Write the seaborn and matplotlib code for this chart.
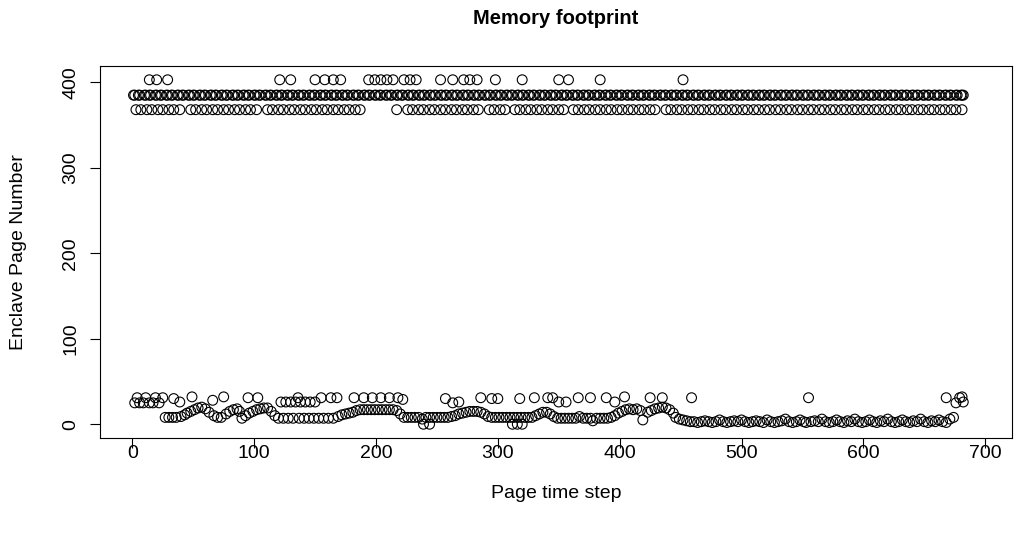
import matplotlib
matplotlib.use("Agg")
import matplotlib.pyplot as plt
import seaborn as sns
import pandas as pd

# ---- data ----
x_385 = [1, 2, 5, 6, 10, 11, 14, 15, 19, 20, 23, 24, 28, 29, 32, 33, 37, 38, 41, 42,
         46, 47, 50, 51, 55, 56, 59, 60, 64, 65, 68, 69, 73, 74, 77, 78, 82, 83, 86, 87,
         91, 92, 95, 96, 100, 101, 104, 105, 109, 110, 113, 114, 118, 119, 122, 123,
         127, 128, 131, 132, 136, 137, 140, 141, 145, 146, 149, 150, 154, 155, 158, 159,
         163, 164, 167, 168, 172, 173, 176, 177, 181, 182, 185, 186, 190, 191, 194, 195,
         199, 200, 203, 204, 208, 209, 212, 213, 217, 218, 221, 222, 226, 227, 230, 231,
         235, 236, 239, 240, 244, 245, 248, 249, 253, 254, 257, 258, 262, 263, 266, 267,
         271, 272, 275, 276, 280, 281, 284, 285, 289, 290, 293, 294, 298, 299, 302, 303,
         307, 308, 311, 312, 316, 317, 320, 321, 325, 326, 329, 330, 334, 335, 338, 339,
         343, 344, 347, 348, 352, 353, 356, 357, 361, 362, 365, 366, 370, 371, 374, 375,
         379, 380, 383, 384, 388, 389, 392, 393, 397, 398, 401, 402, 406, 407, 410, 411,
         415, 416, 419, 420, 424, 425, 428, 429, 433, 434, 437, 438, 442, 443, 446, 447,
         451, 452, 455, 456, 460, 461, 464, 465, 469, 470, 473, 474, 478, 479, 482, 483,
         487, 488, 491, 492, 496, 497, 500, 501, 505, 506, 509, 510, 514, 515, 518, 519,
         523, 524, 527, 528, 532, 533, 536, 537, 541, 542, 545, 546, 550, 551, 554, 555,
         559, 560, 563, 564, 568, 569, 572, 573, 577, 578, 581, 582, 586, 587, 590, 591,
         595, 596, 599, 600, 604, 605, 608, 609, 613, 614, 617, 618, 622, 623, 626, 627,
         631, 632, 635, 636, 640, 641, 644, 645, 649, 650, 653, 654, 658, 659, 662, 663,
         667, 668, 671, 672, 676, 677, 680, 681, 682]

x_368 = [3, 7, 12, 16, 21, 25, 30, 34, 39, 48, 52, 57, 61, 66, 70, 75, 79, 84, 88, 93,
         97, 102, 111, 115, 120, 124, 129, 133, 138, 142, 147, 151, 156, 160, 165, 169,
         174, 178, 183, 187, 217, 226, 230, 235, 239, 244, 248, 253, 257, 262, 266, 271,
         275, 280, 284, 293, 297, 302, 306, 314, 318, 323, 327, 332, 336, 341, 345, 350,
         354, 362, 366, 371, 375, 380, 384, 389, 393, 398, 402, 407, 411, 416, 420, 425,
         429, 438, 442, 447, 451, 456, 460, 465, 469, 474, 478, 483, 487, 492, 496, 501,
         505, 510, 514, 519, 523, 528, 532, 537, 541, 546, 550, 555, 559, 564, 568, 573,
         577, 582, 586, 591, 595, 600, 604, 609, 613, 618, 622, 627, 631, 636, 640, 645,
         649, 654, 658, 663, 667, 672, 676, 681]

x_403 = [14, 20, 29, 121, 130, 150, 158, 165, 171, 194, 199, 204, 209, 214, 223, 228,
         233, 253, 263, 272, 277, 283, 298, 320, 350, 358, 384, 452]

low_x = [2, 4, 6, 9, 11, 14, 17, 19, 22, 25, 27, 30, 33, 34, 36, 39, 40, 43, 45, 48,
         49, 51, 54, 57, 60, 63, 66, 67, 70, 73, 75, 77, 80, 83, 86, 88, 90, 93, 95, 96,
         99, 102, 103, 105, 108, 111, 114, 117, 120, 122, 124, 126, 128, 130, 132, 134,
         136, 137, 138, 141, 142, 145, 146, 149, 150, 153, 155, 157, 161, 163, 165, 168,
         169, 172, 175, 178, 181, 182, 184, 187, 190, 190, 193, 196, 197, 199, 202, 204,
         205, 208, 211, 211, 214, 217, 218, 220, 222, 223, 226, 229, 232, 235, 238, 239,
         241, 244, 244, 247, 250, 253, 256, 257, 259, 262, 263, 265, 268, 268, 271, 274,
         277, 280, 283, 286, 286, 289, 292, 295, 295, 298, 300, 301, 304, 307, 310, 312,
         313, 316, 316, 318, 319, 320, 322, 325, 328, 330, 331, 334, 337, 340, 341, 343,
         345, 346, 349, 350, 352, 355, 356, 358, 361, 364, 366, 367, 370, 373, 376, 376,
         378, 381, 384, 387, 389, 390, 393, 396, 396, 399, 402, 404, 405, 408, 411, 414,
         417, 419, 423, 425, 426, 429, 432, 435, 435, 438, 441, 444, 446, 449, 452, 455,
         458, 459, 461, 464, 467, 470, 473, 476, 479, 482, 485, 488, 491, 494, 497, 500,
         503, 506, 509, 512, 515, 518, 521, 524, 527, 530, 533, 536, 539, 542, 545, 548,
         551, 553, 555, 557, 560, 563, 566, 569, 572, 575, 578, 581, 584, 587, 590, 593,
         596, 599, 602, 605, 608, 611, 614, 617, 620, 623, 626, 629, 632, 635, 638, 641,
         644, 647, 650, 653, 656, 659, 662, 665, 668, 668, 671, 674, 676, 679, 681, 682]

low_y = [25, 31, 25, 25, 31, 25, 25, 31, 25, 31, 8, 8, 8, 30, 8, 26, 9, 11, 13, 15,
         32, 17, 19, 20, 18, 14, 28, 10, 8, 8, 32, 12, 15, 17, 18, 15, 7, 10, 31, 13,
         15, 17, 31, 18, 19, 19, 15, 10, 7, 26, 7, 26, 7, 26, 7, 26,
         31, 7, 26, 7, 26, 7, 26, 7, 26, 7, 31, 7, 7, 31, 7, 31,
         9, 11, 12, 13, 14, 31, 16, 17, 17, 31, 17, 17, 31, 17, 17, 31,
         17, 17, 31, 17, 17, 16, 31, 12, 29, 8, 8, 8, 8, 8, 6, 0,
         8, 0, 8, 8, 8, 8, 8, 30, 8, 9, 25, 10, 12, 26, 13, 14,
         15, 15, 15, 31, 14, 12, 9, 30, 8, 8, 30, 8, 8, 8, 8, 0,
         8, 0, 8, 30, 8, 0, 8, 8, 8, 31, 10, 12, 14, 14, 31, 12,
         31, 9, 7, 26, 7, 7, 26, 7, 7, 7, 31, 9, 7, 7, 31, 7,
         4, 7, 7, 7, 31, 7, 8, 10, 26, 13, 15, 32, 17, 18, 17, 18,
         16, 5, 14, 31, 16, 18, 19, 31, 20, 19, 17, 13, 8, 6, 5, 4,
         3, 31, 3, 2, 3, 4, 3, 2, 3, 5, 3, 2, 3, 4, 3, 5,
         3, 2, 3, 4, 3, 2, 5, 3, 2, 3, 4, 6, 3, 2, 3, 5,
         3, 2, 31, 3, 4, 3, 6, 3, 2, 3, 5, 3, 2, 4, 3, 6,
         3, 2, 3, 5, 3, 2, 4, 3, 6, 3, 2, 3, 5, 3, 2, 4,
         3, 6, 3, 2, 4, 3, 5, 3, 31, 2, 6, 8, 25, 31, 32, 26]

title = "Memory footprint"
xlabel = "Page time step"
ylabel = "Enclave Page Number"
x_ticks = [0, 100, 200, 300, 400, 500, 600, 700]
y_ticks = [0, 100, 200, 300, 400]

# ---- build table ----
xs = list(x_385) + list(x_368) + list(x_403) + list(low_x)
ys = [385] * len(x_385) + [368] * len(x_368) + [403] * len(x_403) + list(low_y)
df = pd.DataFrame({"step": xs, "page": ys})

sns.set_style("white")
plt.rcParams["font.family"] = ["Liberation Sans", "DejaVu Sans"]
plt.rcParams["text.color"] = "black"
plt.rcParams["axes.labelcolor"] = "black"
plt.rcParams["xtick.color"] = "black"
plt.rcParams["ytick.color"] = "black"

W, H = 1019, 533
L, R, T, B = 100, 1012, 66, 438
fig = plt.figure(figsize=(W / 100, H / 100), dpi=100)
ax = fig.add_axes([L / W, (H - B) / H, (R - L) / W, (B - T) / H])

sns.scatterplot(data=df, x="step", y="page", ax=ax, marker="o", s=50,
                linewidth=0.8, legend=False)
coll = ax.collections[0]
coll.set_facecolor("none")
coll.set_edgecolor("black")

ymin, ymax = min(ys), max(ys)
ax.set_xlim(-26.5, 722)
ax.set_ylim(ymin - 0.04 * (ymax - ymin), ymax + 0.04 * (ymax - ymin))

ax.set_xticks(x_ticks)
ax.set_yticks(y_ticks)
ax.set_yticklabels([str(v) for v in y_ticks], rotation=90, va="center")
ax.tick_params(axis="both", direction="out", length=7, width=0.8, color="black",
               labelsize=14, bottom=True, left=True)
ax.tick_params(axis="x", pad=-2)
ax.tick_params(axis="y", pad=8)
for sp in ax.spines.values():
    sp.set_visible(True)
    sp.set_color("black")
    sp.set_linewidth(0.8)

ax.set_xlabel(xlabel, fontsize=14)
ax.set_ylabel(ylabel, fontsize=14)
ax.xaxis.set_label_coords(0.5, -(485 - B) / (B - T))
ax.yaxis.set_label_coords(-(L - 27) / (R - L), 0.5)
fig.text((L + R) / 2 / W, 1 - 19 / H, title, fontsize=14.5, fontweight="bold",
         ha="center", va="center")

fig.savefig("out.png", dpi=100)
